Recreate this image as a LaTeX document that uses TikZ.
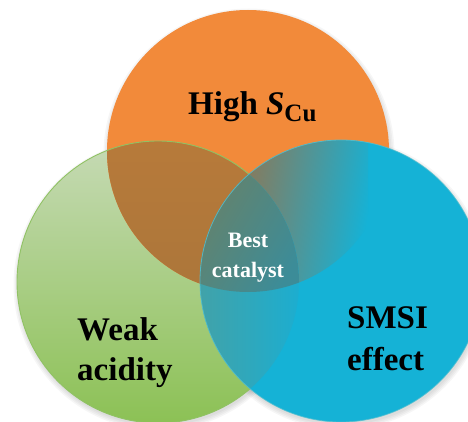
\documentclass[tikz,border=0pt]{standalone}
\usepackage{fontspec}
\setmainfont{Liberation Serif}[BoldFont={Liberation Serif Bold}, BoldItalicFont={Liberation Serif Bold Italic}]
\newfontfamily\tnrfont{Liberation Serif}[BoldFont={Liberation Serif Bold}, BoldItalicFont={Liberation Serif Bold Italic}]
\definecolor{orng}{HTML}{F28A3A}
\definecolor{grnTop}{HTML}{C6DAB5}
\definecolor{grnMid}{HTML}{A6C98A}
\definecolor{grnBot}{HTML}{8CC155}
\definecolor{bluC}{HTML}{15B2D6}
\definecolor{ogTop}{HTML}{B77A3A}
\definecolor{ogBot}{HTML}{A2733B}
\definecolor{obL}{HTML}{A06E42}
\definecolor{obM}{HTML}{4C8890}
\definecolor{obR}{HTML}{15B2D6}
\definecolor{gbL}{HTML}{42A2A8}
\definecolor{gbR}{HTML}{1BAED1}
\definecolor{trL}{HTML}{6A8166}
\definecolor{trR}{HTML}{3C8C98}
\definecolor{grnLine}{HTML}{90C264}
\definecolor{bluLine}{HTML}{55C0CF}
\tikzset{
  bigtxt/.style={font=\tnrfont\bfseries\fontsize{33}{40}\selectfont, inner sep=0pt, text=black},
  smalltxt/.style={font=\tnrfont\bfseries\fontsize{22}{26}\selectfont, inner sep=0pt, text=white},
}
\begin{document}
\begin{tikzpicture}[x=1pt,y=-1pt]
\useasboundingbox (0,0) rectangle (468,422);
\coordinate (O) at (248,151);
\coordinate (G) at (158,282);
\coordinate (B) at (341,281);
% soft shadows
\foreach \d in {0,1.5,3,4.5}{
  \fill[black,opacity=0.035] ([shift={(1,3)}]G) circle[radius=141pt+\d pt];
  \fill[black,opacity=0.035] ([shift={(1,3)}]B) circle[radius=141pt+\d pt];
  \fill[black,opacity=0.035] ([shift={(1,3)}]O) circle[radius=141pt+\d pt];
}
% green circle
\shade[top color=grnTop, middle color=grnMid, bottom color=grnBot] (G) circle[radius=141pt];
% orange circle
\fill[orng] (O) circle[radius=141pt];
% orange-green overlap
\begin{scope}
  \clip (O) circle[radius=141pt];
  \shade[top color=ogTop, bottom color=ogBot] (G) circle[radius=141pt];
\end{scope}
\draw[grnLine, line width=0.9pt] (G) circle[radius=141pt];
% blue circle
\fill[bluC] (B) circle[radius=141pt];
% orange-blue overlap
\begin{scope}
  \clip (O) circle[radius=141pt];
  \clip (B) circle[radius=141pt];
  \shade[left color=obL, middle color=obM, right color=obR, shading angle=80] (210,138) rectangle (368,292);
\end{scope}
% green-blue overlap
\begin{scope}
  \clip (G) circle[radius=141pt];
  \clip (B) circle[radius=141pt];
  \shade[left color=gbL, right color=gbR] (198,138) rectangle (302,425);
\end{scope}
% triple overlap
\begin{scope}
  \clip (O) circle[radius=141pt];
  \clip (G) circle[radius=141pt];
  \clip (B) circle[radius=141pt];
  \shade[left color=trL, right color=trR, shading angle=60] (198,138) rectangle (302,295);
\end{scope}
\draw[bluLine, line width=0.8pt, opacity=0.8] (B) circle[radius=141pt];
% texts
\node[bigtxt, anchor=base west] (high) at (188,115) {High \textit{S}\raisebox{-7pt}{\fontsize{25}{25}\selectfont Cu}};
\node[bigtxt, anchor=base west] (weak) at (77,340) {Weak};
\node[bigtxt, anchor=base west] (acid) at (77,380) {acidity};
\node[bigtxt, anchor=base west] (smsi) at (347,328) {SMSI};
\node[bigtxt, anchor=base west] (eff) at (347,370) {effect};
\node[smalltxt, anchor=base] (best) at (248,247) {Best};
\node[smalltxt, anchor=base] (cat) at (248,277) {catalyst};
\end{tikzpicture}
\end{document}
